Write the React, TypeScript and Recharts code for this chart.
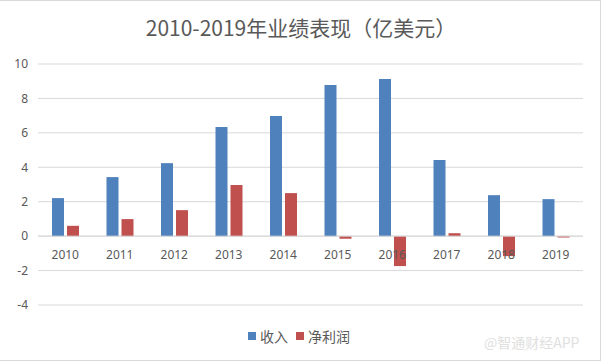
import { ComposedChart, Bar, Line, XAxis, YAxis, CartesianGrid, ReferenceLine, LabelList } from 'recharts';

const years = ['2010', '2011', '2012', '2013', '2014', '2015', '2016', '2017', '2018', '2019'];
const revenue = [2.21, 3.43, 4.24, 6.34, 6.98, 8.78, 9.13, 4.42, 2.38, 2.15];
const netProfit = [0.6, 0.99, 1.51, 2.97, 2.5, -0.15, -1.74, 0.17, -1.16, -0.08];
const yTicks = [-4, -2, 0, 2, 4, 6, 8, 10];

const data = years.map((year, i) => ({
  year,
  revenue: revenue[i],
  netProfit: netProfit[i],
  zero: 0,
}));

const textColor = '#595959';
const gridColor = '#d9d9d9';

const App = () => {
  return (
    <div style={{ position: 'absolute', left: 0, top: 0, width: 602, height: 362, background: '#fff' }}>
      <div
        style={{
          position: 'absolute',
          left: 0,
          top: 12,
          width: 602,
          textAlign: 'center',
          fontFamily: '"Noto Sans CJK SC", sans-serif',
          fontSize: 21,
          lineHeight: '30px',
          color: textColor,
        }}
      >
        2010-2019年业绩表现（亿美元）
      </div>
      <ComposedChart
        width={602}
        height={362}
        data={data}
        margin={{ top: 64, right: 19, bottom: 57, left: 0 }}
        barSize={12}
        barGap={3}
        style={{ position: 'absolute', left: 0, top: 0 }}
      >
        <CartesianGrid vertical={false} stroke={gridColor} />
        <XAxis dataKey="year" hide />
        <YAxis
          domain={[-4, 10]}
          ticks={yTicks}
          width={38}
          axisLine={false}
          tickLine={false}
          tickSize={0}
          tickMargin={10}
          tick={{ fill: textColor, fontSize: 12, fontFamily: '"Noto Sans", sans-serif' }}
        />
        <ReferenceLine y={0} stroke={gridColor} />
        <Bar dataKey="revenue" fill="#4f81bd" isAnimationActive={false} />
        <Bar dataKey="netProfit" fill="#c0504d" isAnimationActive={false} />
        <Line dataKey="zero" stroke="none" dot={false} activeDot={false} isAnimationActive={false}>
          <LabelList
            dataKey="year"
            position="bottom"
            offset={14}
            fill={textColor}
            fontSize={12}
            fontFamily='"Noto Sans", sans-serif'
          />
        </Line>
      </ComposedChart>
      <div
        style={{
          position: 'absolute',
          left: 0,
          top: 326,
          width: 602,
          display: 'flex',
          justifyContent: 'center',
          alignItems: 'center',
          fontFamily: '"Noto Sans CJK SC", sans-serif',
          fontSize: 14,
          color: textColor,
          gap: 4,
        }}
      >
        <span style={{ display: 'inline-block', width: 8, height: 8, background: '#4f81bd', marginLeft: -4 }} />
        <span style={{ marginRight: 4 }}>收入</span>
        <span style={{ display: 'inline-block', width: 8, height: 8, background: '#c0504d' }} />
        <span>净利润</span>
      </div>
      <div
        style={{
          position: 'absolute',
          left: 484,
          top: 332,
          fontFamily: '"Noto Sans CJK SC", sans-serif',
          fontSize: 14,
          color: '#e0e0e0',
        }}
      >
        @智通财经APP
      </div>
      <div
        style={{
          position: 'absolute',
          left: 0,
          top: 0,
          width: 601,
          height: 361,
          boxSizing: 'border-box',
          borderTop: `1px solid ${gridColor}`,
          borderRight: `1px solid ${gridColor}`,
          borderBottom: `1px solid ${gridColor}`,
          pointerEvents: 'none',
        }}
      />
    </div>
  );
};

export default App;
